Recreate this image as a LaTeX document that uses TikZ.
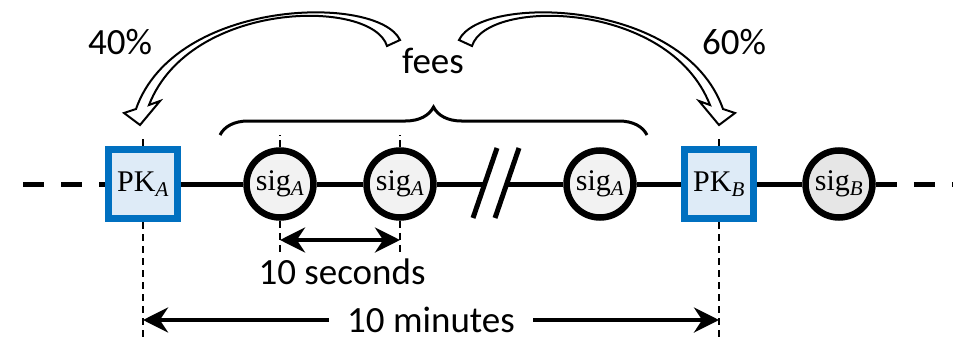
\documentclass[tikz,border=0pt]{standalone}
\usepackage[no-math]{fontspec}
\setmainfont{Carlito}
\newfontfamily\keyfont{Liberation Serif}
\usetikzlibrary{arrows.meta, decorations.pathreplacing}

\definecolor{pkblue}{HTML}{0070C0}
\definecolor{pkfill}{HTML}{DEEBF7}
\definecolor{sigfill}{HTML}{F2F2F2}
\definecolor{sigbfill}{HTML}{E6E6E6}

% block label with an italic subscript
\newcommand{\blk}[2]{#1\textsubscript{\itshape #2}}

% hollow curved arrow carrying the fee share (drawn for the left key, mirrored for the right)
\newcommand{\feearrow}{%
  \draw[hollow] (400,40) .. controls (378,-6) and (175,-2) .. (136,109)
    -- (124,113) -- (140,125) -- (160,101) -- (149,105)
    .. controls (190,0) and (372,-2) .. (387,46) -- cycle;}

\begin{document}
\begin{tikzpicture}[x=1pt, y=-1pt,
    every node/.style={font=\fontsize{37}{44}\selectfont},
    pkbox/.style={rectangle, draw=pkblue, line width=7pt, fill=pkfill,
                  minimum size=69pt, inner sep=0pt, font=\keyfont\fontsize{30}{36}\selectfont},
    sigdot/.style={circle, draw=black, line width=6.5pt, fill=sigfill,
                   minimum size=67pt, inner sep=0pt, font=\keyfont\fontsize{30}{36}\selectfont},
    chain/.style={line width=5pt},
    guide/.style={line width=2pt, dash pattern=on 7pt off 5pt},
    span/.style={line width=4.5pt, {Stealth[length=25pt, width=25pt]}-{Stealth[length=25pt, width=25pt]}},
    hollow/.style={draw=black, fill=white, line width=2pt, line join=miter},
    brace/.style={line width=3pt, decorate, decoration={brace, amplitude=28pt}},
]
\useasboundingbox (0,0) rectangle (976,337);

% guide rows
\coordinate (top) at (0,135);
\coordinate (secrow) at (0,240);
\coordinate (secbot) at (0,253);
\coordinate (minrow) at (0,320);
\coordinate (bot) at (0,337);

% the chain of blocks
\node[pkbox] (pka) at (143,184) {\blk{PK}{A}};
\node[sigdot] (sig1) at (280,184) {\blk{sig}{A}};
\node[sigdot] (sig2) at (400,184) {\blk{sig}{A}};
\node[sigdot] (sig3) at (600,184) {\blk{sig}{A}};
\node[pkbox] (pkb) at (719,184) {\blk{PK}{B}};
\node[sigdot, fill=sigbfill] (sigb) at (839,184) {\blk{sig}{B}};

\coordinate (farl) at (23,184);
\coordinate (farr) at (953,184);
\coordinate (brkl) at (485,184);
\coordinate (brkr) at (507,184);

\draw[chain, dash pattern=on 21pt off 17pt] (farl) -- (pka);
\draw[chain] (pka) -- (sig1) -- (sig2) -- (brkl);
\draw[chain] (brkr) -- (sig3) -- (pkb) -- (sigb);
\draw[chain, dash pattern=on 21pt off 17pt] (sigb) -- (farr);
% time gap in the chain
\draw[chain] (473,218) -- (497,148);
\draw[chain] (495,218) -- (519,148);

% dashed guides
\draw[guide] (pka.north) -- (pka.north |- top);
\draw[guide] (pka.south) -- (pka.south |- bot);
\draw[guide] (pkb.north) -- (pkb.north |- top);
\draw[guide] (pkb.south) -- (pkb.south |- bot);
\draw[guide] (sig1.north) -- (sig1.north |- top);
\draw[guide] (sig1.south) -- (sig1.south |- secbot);
\draw[guide] (sig2.north) -- (sig2.north |- top);
\draw[guide] (sig2.south) -- (sig2.south |- secbot);

% intervals
\draw[span] (sig1 |- secrow) -- (sig2 |- secrow);
\node[anchor=base] (secs) at (342,284) {10 seconds};
\draw[span] (pka |- minrow) -- node[fill=white, inner xsep=18pt, inner ysep=0pt] (mins) {10 minutes} (pkb |- minrow);

% fees split between the two keys
\coordinate (bl) at (220,135);
\coordinate (br) at (647,135);
\draw[brace] (bl) -- (br);
\node[anchor=base] (fees) at (433,73) {fees};
\feearrow
\begin{scope}[xshift=859pt, xscale=-1]
\feearrow
\end{scope}
\node[anchor=base] (lshare) at (120,55) {40\%};
\node[anchor=base] (rshare) at (734,55) {60\%};
\end{tikzpicture}
\end{document}
